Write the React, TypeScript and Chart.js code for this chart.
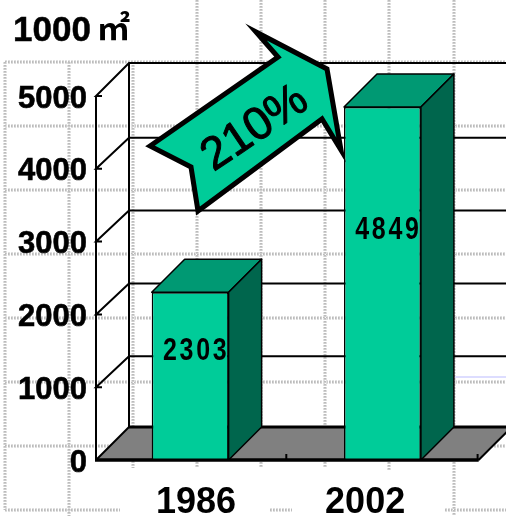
import React, { useEffect, useRef } from "react";
import { Chart, registerables } from "chart.js";

Chart.register(...registerables);

const categories = ["1986", "2002"];
const floorSpace = [2303, 4849];
const yTickValues = [0, 1000, 2000, 3000, 4000, 5000];
const unitLabel = "1000";
const unitGlyph = "㎡";
const growthLabel = "210%";

const FRONT = "#00CC99";
const TOP = "#009973";
const SIDE = "#00664D";
const FLOOR = "#808080";
const DEPTH = 33;
const GRID_DEPTH = 31;

const hatchYs = [62, 126, 190, 254, 318, 382, 446];

const arrowShape: [number, number][] = [
  [150, 146], [278, 57], [256, 32], [327, 69], [341, 150], [322, 119], [198, 211], [191, 167],
];

const sansFamily = '"Liberation Sans", Arial, sans-serif';

const dotted = (c: CanvasRenderingContext2D, x1: number, y1: number, x2: number, y2: number) => {
  c.save();
  c.strokeStyle = "#e0e0e0";
  c.lineWidth = 4;
  c.setLineDash([2, 1]);
  c.beginPath(); c.moveTo(x1, y1); c.lineTo(x2, y2); c.stroke();
  c.strokeStyle = "#bcbcbc";
  c.lineWidth = 2;
  c.setLineDash([1.5, 1.5]);
  c.beginPath(); c.moveTo(x1, y1); c.lineTo(x2, y2); c.stroke();
  c.restore();
};

const line = (c: CanvasRenderingContext2D, w: number, pts: [number, number][], color = "#000") => {
  c.save();
  c.strokeStyle = color;
  c.lineWidth = w;
  c.lineCap = "butt";
  c.beginPath();
  pts.forEach(([x, y], i) => (i ? c.lineTo(x, y) : c.moveTo(x, y)));
  c.stroke();
  c.restore();
};

const stagePlugin = {
  id: "stage",
  beforeDatasetsDraw(chart: any) {
    const c: CanvasRenderingContext2D = chart.ctx;
    const { chartArea: a, scales } = chart;
    const left = a.left + 2;
    const right = a.right;
    const bottom = a.bottom;
    const top = a.top;
    const cw = chart.width;

    // floor
    c.fillStyle = FLOOR;
    c.beginPath();
    c.moveTo(left, bottom);
    c.lineTo(left + DEPTH, bottom - DEPTH);
    c.lineTo(right + DEPTH + 2, bottom - DEPTH);
    c.lineTo(right, bottom);
    c.closePath();
    c.fill();

    // walls and 3D grid lines
    yTickValues.forEach((v, i) => {
      const y = scales.y.getPixelForValue(v);
      if (v > 0) {
        const d = i === yTickValues.length - 1 ? DEPTH : GRID_DEPTH;
        line(c, 2, [[left + 6, y], [left, y], [left + DEPTH, y - d], [cw, y - d]]);
      }
    });
    line(c, 3, [[left + DEPTH, bottom - DEPTH], [cw, bottom - DEPTH]]);
    line(c, 2, [[left + DEPTH, top - DEPTH], [left + DEPTH, bottom - DEPTH]]);
    line(c, 2, [[left, bottom], [left + DEPTH, bottom - DEPTH]]);
    line(c, 2, [[right, bottom], [right + DEPTH, bottom - DEPTH]]);
    line(c, 2, [[left, top], [left, bottom]]);
    line(c, 3, [[left - 1, bottom], [right, bottom]]);

    // category ticks
    const mid = (scales.x.getPixelForValue(0) + scales.x.getPixelForValue(1)) / 2;
    line(c, 2, [[mid, bottom], [mid, bottom - 6]]);
    line(c, 2, [[right - 1, bottom], [right - 1, bottom - 6]]);
  },
  beforeDraw(chart: any) {
    const c: CanvasRenderingContext2D = chart.ctx;
    const cw = chart.width;
    // sheet hatch behind everything
    hatchYs.forEach((y) => dotted(c, 5, y, cw, y));
    dotted(c, 5, 510, 120, 510);
    dotted(c, 270, 510, 292, 510);
    dotted(c, 445, 510, cw, 510);
    dotted(c, 5, 62, 5, 510);
    dotted(c, 69, 62, 69, 516);
    dotted(c, 133, 62, 133, 468);
    dotted(c, 197, 0, 197, 468);
    dotted(c, 261, 0, 261, 468);
    dotted(c, 325, 0, 325, 468);
    dotted(c, 389, 0, 389, 470);
    dotted(c, 454, 0, 454, 516);
    line(c, 2, [[455, 377], [cw, 377]], "#ddddff");
  },
  afterDatasetsDraw(chart: any) {
    const c: CanvasRenderingContext2D = chart.ctx;
    const bars = chart.getDatasetMeta(0).data;
    bars.forEach((b: any, i: number) => {
      const l = b.x - b.width / 2;
      const r = b.x + b.width / 2;
      c.save();
      c.strokeStyle = "#000";
      c.lineWidth = 1.5;
      c.lineJoin = "round";
      c.fillStyle = TOP;
      c.beginPath();
      c.moveTo(l, b.y); c.lineTo(l + DEPTH, b.y - DEPTH); c.lineTo(r + DEPTH, b.y - DEPTH); c.lineTo(r, b.y);
      c.closePath(); c.fill(); c.stroke();
      c.fillStyle = SIDE;
      c.beginPath();
      c.moveTo(r, b.y); c.lineTo(r + DEPTH, b.y - DEPTH); c.lineTo(r + DEPTH, b.base - DEPTH); c.lineTo(r, b.base);
      c.closePath(); c.fill(); c.stroke();
      c.restore();

      // value label
      c.save();
      c.fillStyle = "#000";
      c.font = `bold 32px ${sansFamily}`;
      (c as any).letterSpacing = "3.5px";
      c.textAlign = "center";
      c.textBaseline = "middle";
      c.translate(b.x + 6, b.base - (b.base - b.y) * 0.655);
      c.scale(0.78, 1);
      c.fillText(String(floorSpace[i]), 0, 1);
      c.restore();
    });

    line(c, 3, [[chart.chartArea.left + 1, chart.chartArea.bottom], [chart.chartArea.right, chart.chartArea.bottom]]);
  },
  afterDraw(chart: any) {
    const c: CanvasRenderingContext2D = chart.ctx;
    // unit label
    c.save();
    c.fillStyle = "#000";
    c.textBaseline = "alphabetic";
    c.font = `bold 35px ${sansFamily}`;
    c.strokeStyle = "#000";
    c.lineWidth = 0.5;
    c.fillText(unitLabel, 13, 41);
    c.strokeText(unitLabel, 13, 41);
    c.font = 'bold 33px "Noto Sans CJK JP"';
    c.fillText(unitGlyph, 97, 40);
    c.restore();

    // growth arrow
    c.save();
    c.fillStyle = FRONT;
    c.strokeStyle = "#000";
    c.lineWidth = 5;
    c.lineJoin = "miter";
    c.miterLimit = 6;
    c.beginPath();
    arrowShape.forEach(([x, y], i) => (i ? c.lineTo(x, y) : c.moveTo(x, y)));
    c.closePath();
    c.fill();
    c.stroke();
    c.translate(254, 127);
    c.rotate((-34 * Math.PI) / 180);
    c.fillStyle = "#000";
    c.font = `46px ${sansFamily}`;
    c.textAlign = "center";
    c.textBaseline = "middle";
    c.lineWidth = 1;
    c.lineJoin = "round";
    c.fillText(growthLabel, 0, 2);
    c.strokeText(growthLabel, 0, 2);
    c.restore();
  },
};

export default function App() {
  const ref = useRef<HTMLCanvasElement>(null);
  useEffect(() => {
    document.body.style.margin = "0";
    const chart = new Chart(ref.current!, {
      type: "bar",
      data: {
        labels: categories,
        datasets: [
          {
            data: floorSpace,
            backgroundColor: FRONT,
            borderColor: "#000",
            borderWidth: 1.5,
            barPercentage: 0.4,
            categoryPercentage: 1,
          },
        ],
      },
      options: {
        animation: false,
        responsive: false,
        devicePixelRatio: 1,
        layout: { padding: { top: 96, right: 27.4, left: 0, bottom: 0 } },
        plugins: { legend: { display: false }, tooltip: { enabled: false } },
        scales: {
          x: { display: false, type: "category" },
          xLabels: {
            type: "linear",
            position: "bottom",
            offset: false,
            min: 0,
            max: 2,
            grid: { display: false, drawTicks: false, offset: false },
            border: { display: false },
            afterBuildTicks: (s: any) => {
              s.ticks = [{ value: 0.53 }, { value: 1.41 }];
            },
            afterFit: (s: any) => {
              s.height = 56;
            },
            ticks: {
              autoSkip: false,
              maxRotation: 0,
              minRotation: 0,
              padding: 21,
              color: "#000",
              font: { family: sansFamily, size: 36, weight: "bold" },
              callback: (_: any, i: number) => categories[i],
            },
          },
          y: {
            min: 0,
            max: 5000,
            grid: { display: false, drawTicks: false },
            border: { display: false },
            afterBuildTicks: (s: any) => {
              s.ticks = yTickValues.map((value) => ({ value }));
            },
            afterFit: (s: any) => {
              s.width = 94;
            },
            ticks: {
              padding: 7,
              labelOffset: 3,
              color: "#000",
              textStrokeColor: "#000",
              textStrokeWidth: 0.6,
              font: { family: sansFamily, size: 31, weight: "bold" },
              callback: (v: any) => String(v),
            },
          },
        },
      } as any,
      plugins: [stagePlugin],
    });
    return () => chart.destroy();
  }, []);
  return <canvas ref={ref} width={506} height={516} style={{ display: "block" }} />;
}
